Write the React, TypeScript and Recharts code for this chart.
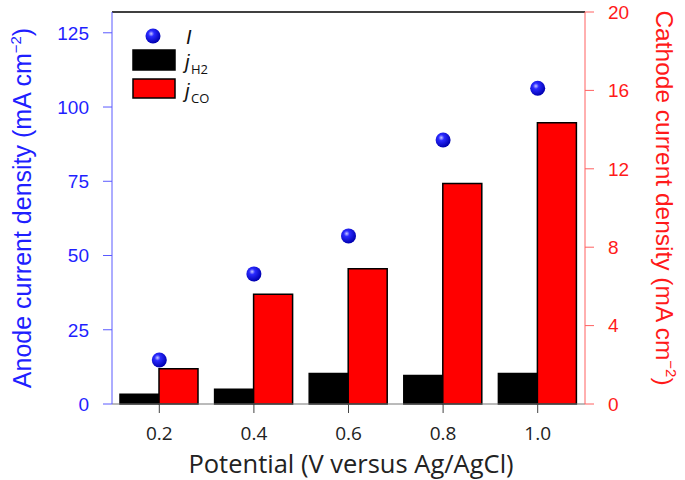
import React from 'react';
import { ComposedChart, Bar, Scatter, XAxis, YAxis, Legend, ReferenceLine } from 'recharts';

document.body.style.margin = '0';

const potentials = ['0.2', '0.4', '0.6', '0.8', '1.0'];
const anodeI = [14.8, 43.8, 56.6, 88.9, 106.3];
const jH2 = [0.5, 0.75, 1.55, 1.45, 1.55];
const jCO = [1.8, 5.6, 6.9, 11.25, 14.35];
const leftTicks = [0, 25, 50, 75, 100, 125];
const rightTicks = [0, 4, 8, 12, 16, 20];

const data = potentials.map((v, i) => ({ v, I: anodeI[i], jH2: jH2[i], jCO: jCO[i] }));

const SANS = '"Liberation Sans", Arial, sans-serif';
const GEO = '"Open Sans", sans-serif';
const BLUE = '#1f1fff';
const RED = '#ff1a1a';

const Sphere = (props: any) => {
  const { cx, cy } = props;
  if (cx == null || cy == null) return null;
  return <circle cx={cx} cy={cy} r={7.5} fill="url(#sphere)" />;
};

const LeftTitle = () => (
  <text
    x={0}
    y={0}
    transform="translate(31 208) rotate(-90)"
    textAnchor="middle"
    fill={BLUE}
    fontSize={25}
    fontFamily={SANS}
  >
    Anode current density (mA cm<tspan dy={-10} fontSize={15}>−2</tspan>
    <tspan dy={10}>)</tspan>
  </text>
);

const RightTitle = () => (
  <text
    x={0}
    y={0}
    transform="translate(656 198) rotate(90)"
    textAnchor="middle"
    fill={RED}
    fontSize={24.5}
    fontFamily={SANS}
  >
    Cathode current density (mA cm<tspan dy={-10} fontSize={15}>−2</tspan>
    <tspan dy={10}>)</tspan>
  </text>
);

const BottomTitle = () => (
  <text x={351} y={473} textAnchor="middle" fill="#222" fontSize={25.5} fontFamily={GEO}>
    Potential (V versus Ag/AgCl)
  </text>
);

const LegendBox = () => (
  <svg width={110} height={85} style={{ fontFamily: GEO }}>
    <defs>
      <radialGradient id="sphereLeg" cx="38%" cy="35%" r="65%">
        <stop offset="0%" stopColor="#c8c8ff" />
        <stop offset="30%" stopColor="#2a2aff" />
        <stop offset="100%" stopColor="#0000b0" />
      </radialGradient>
    </defs>
    <circle cx={28} cy={12} r={7.5} fill="url(#sphereLeg)" />
    <text x={61} y={20} fontSize={20} fontStyle="italic" fill="#111" fontFamily={SANS}>I</text>
    <rect x={8} y={26} width={42} height={20} fill="#000" stroke="#000" strokeWidth={1.5} />
    <text x={60} y={45} fontSize={20} fontStyle="italic" fill="#111" fontFamily={SANS}>j</text>
    <text x={66} y={50} fontSize={13} fill="#111">H2</text>
    <rect x={8} y={55} width={42} height={19} fill="#ff0000" stroke="#000" strokeWidth={1.5} />
    <text x={60} y={74} fontSize={20} fontStyle="italic" fill="#111" fontFamily={SANS}>j</text>
    <text x={66} y={79} fontSize={13} fill="#111">CO</text>
  </svg>
);

export default function App() {
  return (
    <div style={{ width: 685, height: 480, background: '#fff' }}>
      <ComposedChart
        width={685}
        height={480}
        data={data}
        margin={{ top: 12, right: 0, left: 0, bottom: 0 }}
        barGap={0}
        barSize={39}
      >
        <defs>
          <radialGradient id="sphere" cx="38%" cy="35%" r="65%">
            <stop offset="0%" stopColor="#c8c8ff" />
            <stop offset="30%" stopColor="#2a2aff" />
            <stop offset="100%" stopColor="#0000b0" />
          </radialGradient>
        </defs>
        <XAxis
          dataKey="v"
          height={76}
          stroke="#777"
          tickSize={9}
          tickMargin={14}
          tick={{ fill: '#222', fontSize: 19, fontFamily: GEO }}
          tickLine={{ stroke: '#444' }}
        />
        <YAxis
          yAxisId="left"
          orientation="left"
          width={112}
          domain={[0, 132]}
          ticks={leftTicks}
          stroke="#5a5aff"
          tickSize={9}
          tickMargin={14}
          tick={{ fill: BLUE, fontSize: 19, fontFamily: SANS }}
          label={{ content: () => <LeftTitle /> }}
        />
        <YAxis
          yAxisId="right"
          orientation="right"
          width={100}
          domain={[0, 20]}
          ticks={rightTicks}
          stroke="#ff6060"
          tickSize={9}
          tickMargin={14}
          tick={{ fill: RED, fontSize: 19, fontFamily: SANS }}
          label={{ content: () => <RightTitle /> }}
        />
        <ReferenceLine yAxisId="left" y={132} stroke="#000" strokeWidth={1.5} />
        <Bar yAxisId="right" dataKey="jH2" name="jH2" fill="#000" stroke="#000" strokeWidth={1.5} isAnimationActive={false} />
        <Bar yAxisId="right" dataKey="jCO" name="jCO" fill="#ff0000" stroke="#000" strokeWidth={1.5} isAnimationActive={false} />
        <Scatter yAxisId="left" dataKey="I" name="I" shape={<Sphere />} isAnimationActive={false} />
        <Legend
          layout="vertical"
          align="center"
          verticalAlign="middle"
          wrapperStyle={{ top: 24, left: 125, width: 110 }}
          content={() => <LegendBox />}
        />
        <BottomTitle />
      </ComposedChart>
    </div>
  );
}
